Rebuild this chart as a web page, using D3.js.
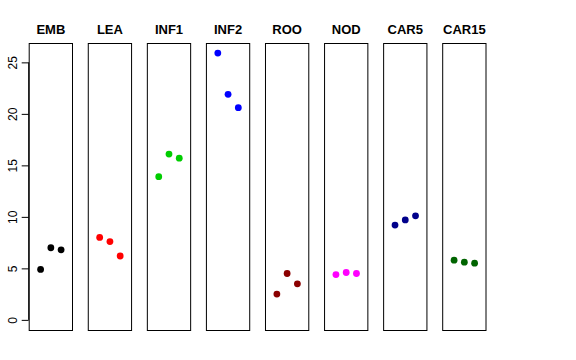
<!DOCTYPE html>
<html>
<head>
<meta charset="utf-8">
<script src="https://cdn.jsdelivr.net/npm/d3@7"></script>
<style>
  body { margin: 0; background: #fff; }
  svg { display: block; }
  text { font-family: "Liberation Sans", Arial, Helvetica, sans-serif; }
</style>
</head>
<body>
<div id="chart"></div>
<script>
// tissues, one panel each
var tissues = ['EMB', 'LEA', 'INF1', 'INF2', 'ROO', 'NOD', 'CAR5', 'CAR15'];
var colors = ['#000000', '#ff0000', '#00cd00', '#0000ff', '#8b0000', '#ff00ff', '#00008b', '#006400'];

// three replicate values per tissue
var rep1 = [4.9, 8.0, 13.9, 25.9, 2.5, 4.4, 9.2, 5.8];
var rep2 = [7.0, 7.6, 16.1, 21.9, 4.5, 4.6, 9.7, 5.6];
var rep3 = [6.8, 6.2, 15.7, 20.6, 3.5, 4.5, 10.1, 5.5];

var yTicks = [0, 5, 10, 15, 20, 25];

var width = 576, height = 360;
var plotTop = 43.5, plotBottom = 330.5;

var svg = d3.select('#chart').append('svg')
  .attr('width', width)
  .attr('height', height);

// R style ylim = c(0, max) with 4% padding
var yMax = 25.8;
var y = d3.scaleLinear()
  .domain([-0.04 * yMax, yMax * 1.04])
  .range([plotBottom, plotTop]);

var panel = d3.scaleBand()
  .domain(tissues)
  .range([28.7, 486.5])
  .paddingInner(0.25)
  .paddingOuter(0);

var bw = panel.bandwidth();
var x = d3.scaleLinear().domain([-0.16, 4.16]).range([0, bw]);

var rows = tissues.map(function(t, i) {
  return { name: t, color: colors[i], values: [rep1[i], rep2[i], rep3[i]] };
});

// y axis on the left of the first panel
var yAxis = d3.axisLeft(y).tickValues(yTicks).tickSize(7).tickPadding(5);
var gy = svg.append('g')
  .attr('transform', 'translate(' + panel(tissues[0]) + ',0)')
  .call(yAxis);
gy.select('.domain').attr('d', 'M0,' + y(0) + 'V' + y(25)).attr('stroke', '#000');
gy.selectAll('.tick line').attr('stroke', '#000');
gy.selectAll('.tick text')
  .attr('font-size', 12)
  .attr('fill', '#000')
  .attr('x', null)
  .attr('text-anchor', 'middle')
  .attr('transform', 'translate(-16,0) rotate(-90)')
  .attr('dy', '0.35em');

var panels = svg.selectAll('g.panel')
  .data(rows)
  .enter().append('g')
  .classed('panel', true)
  .attr('transform', function(d) { return 'translate(' + panel(d.name) + ',0)'; });

panels.append('rect')
  .attr('x', 0.5)
  .attr('y', plotTop)
  .attr('width', bw - 1)
  .attr('height', plotBottom - plotTop)
  .attr('fill', 'none')
  .attr('stroke', '#000');

panels.append('text')
  .attr('x', bw / 2)
  .attr('y', 34)
  .attr('text-anchor', 'middle')
  .attr('font-size', 13)
  .attr('font-weight', 'bold')
  .text(function(d) { return d.name; });

panels.selectAll('circle')
  .data(function(d) { return d.values.map(function(v, i) { return { v: v, i: i + 1, color: d.color }; }); })
  .enter().append('circle')
  .attr('cx', function(d) { return x(d.i); })
  .attr('cy', function(d) { return y(d.v); })
  .attr('r', 3.4)
  .attr('fill', function(d) { return d.color; });
</script>
</body>
</html>
